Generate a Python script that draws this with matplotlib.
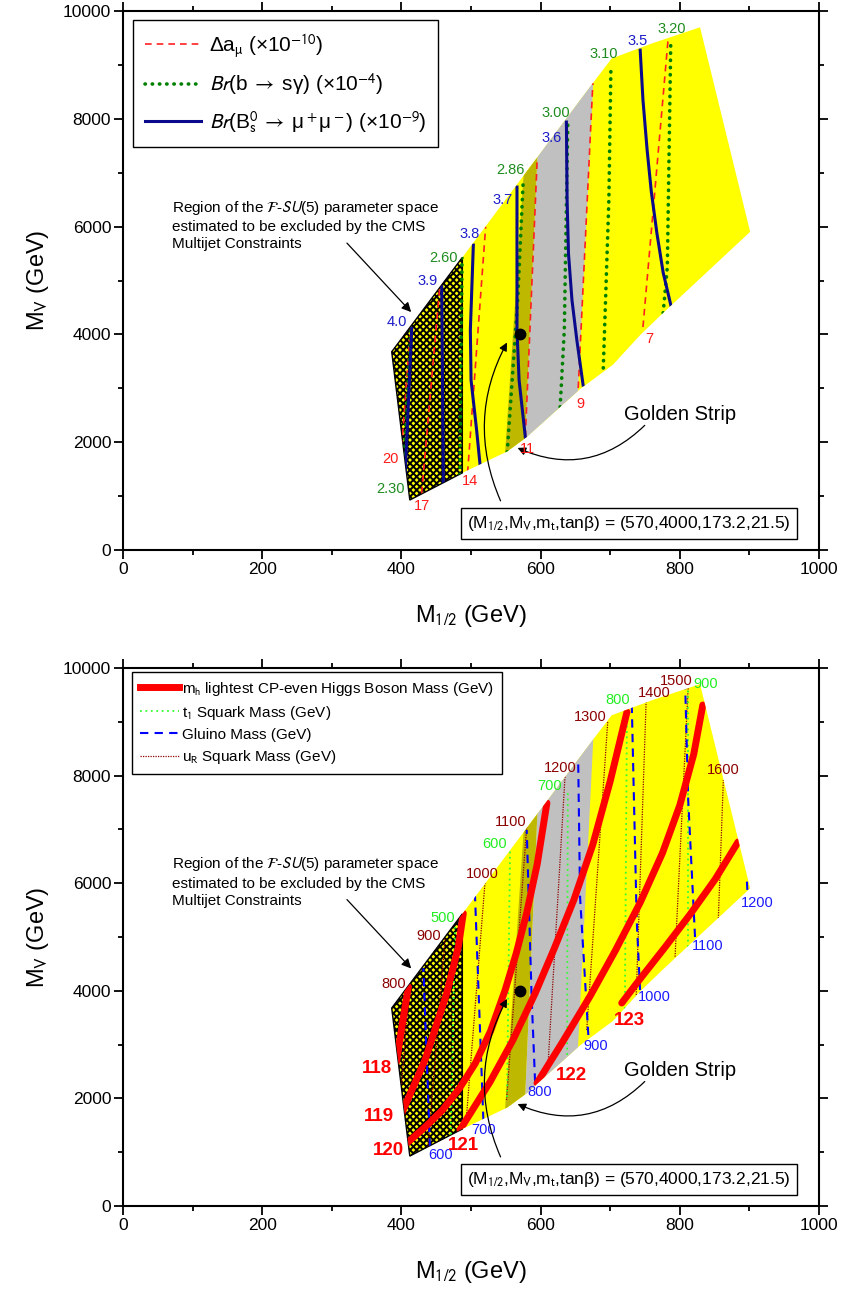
import matplotlib
matplotlib.use('Agg')
import matplotlib.pyplot as plt
from matplotlib.patches import Polygon
from matplotlib.lines import Line2D
from matplotlib.ticker import MultipleLocator

plt.rcParams['font.family'] = ['Liberation Sans', 'DejaVu Sans']
plt.rcParams['mathtext.fontset'] = 'stixsans'
plt.rcParams['hatch.linewidth'] = 1.4

# allowed (M_1/2, M_V) region and its shaded parts
region_x = [386, 487.5, 675, 702, 760, 829, 901, 776, 743, 704, 657, 580, 552, 487, 412]
region_y = [3679, 5430, 8664, 9120, 9400, 9700, 5905, 4400, 3990, 3440, 2990, 2096, 1830, 1429, 928]
excl_x = [386, 487.5, 487.5, 412]
excl_y = [3679, 5430, 1432, 928]
olive_x = [545.8, 578.8, 597, 576]
olive_y = [1200, 7600, 7800, 1500]
grey_x = [576, 597, 678, 652]
grey_y = [1500, 7800, 9300, 2500]

# top panel: Delta a_mu (x1e-10)
amu_vals = ['20', '17', '14', '11', '9', '7']
amu_x = [[400.4, 413], [429, 455.5], [495, 521], [578, 595], [654, 675], [747, 783]]
amu_y = [[1916, 4100], [1052, 4948], [1430, 5998], [2096, 7236], [3006, 8664], [4137, 9462]]
amu_lab = [(383.6, 1688), (428.9, 816), (498.6, 1280), (581.2, 1874), (656.6, 2709), (755.7, 3915)]

# top panel: Br(b -> s gamma) (x1e-4)
bsg_vals = ['2.30', '2.60', '2.86', '3.00', '3.10', '3.20']
bsg_x = [[402, 414], [484, 487], [552, 567, 575], [628, 634, 639], [690, 698, 701], [776, 782, 787]]
bsg_y = [[1250, 4150], [1400, 5420], [1818, 4638, 6865], [2653, 4082, 7922], [3377, 6494, 8998], [4397, 5250, 9462]]
bsg_lab = [(383.6, 1132), (459.8, 5427), (556, 7050), (622, 8117), (691, 9202), (788.8, 9666)]

# top panel: Br(Bs -> mu mu) (x1e-9)
bmm_vals = ['4.0', '3.9', '3.8', '3.7', '3.6', '3.5']
bmm_x = [[405.2, 414.8], [460.2, 457.9], [513, 508, 500, 499, 503.3],
         [578, 569, 566, 566], [661, 652, 645, 640, 638, 637],
         [787, 776, 767, 759, 753, 747, 743]]
bmm_y = [[1360, 4113], [1237, 4885], [1577, 2226, 3154, 4082, 5659],
         [2096, 3154, 4082, 6735], [3061, 3896, 4638, 5500, 6494, 7941],
         [4545, 5150, 5881, 6650, 7421, 8350, 9276]]
bmm_lab = [(393.2, 4236), (438.2, 4991), (498.6, 5863), (546, 6494), (616.4, 7653), (740, 9443)]

# bottom panel: lightest Higgs mass (GeV)
mh_vals = ['118', '119', '120', '121', '122', '123']
mh_x = [[393, 401, 410],
        [400.4, 433.9, 465.1, 481.8, 488.9],
        [408, 435, 459, 483, 506, 528, 549, 565, 580, 595, 609],
        [484, 527, 560, 592, 620, 648, 675, 700, 724],
        [594.8, 632, 671, 707, 743, 775, 800, 820, 833],
        [716.5, 742.8, 778.7, 814.7, 850.6, 883.6]]
mh_y = [[2682, 3364, 4076],
        [1723, 2714, 3954, 4820, 5440],
        [1171, 1480, 1785, 2180, 2650, 3250, 4015, 4700, 5450, 6350, 7491],
        [1413, 2300, 3080, 3950, 4800, 5700, 6720, 7900, 9182],
        [2286, 3060, 3900, 4740, 5640, 6560, 7450, 8400, 9312],
        [3773, 4220, 4810, 5420, 6070, 6766]]
mh_lab = [(365, 2565), (368, 1673), (381, 1041), (488.5, 1134), (643.7, 2435), (727, 3457)]

# bottom panel: stop squark mass (GeV)
t1_vals = ['500', '600', '700', '800', '900']
t1_x = [[471, 477], [551.7, 556], [638, 639], [721, 724], [812, 812]]
t1_y = [[1330, 5240], [2026, 6617], [2807, 7677], [3661, 9183], [4814, 9647]]
t1_lab = [(459, 5362), (534, 6729), (612.8, 7807), (710.5, 9405), (836.9, 9703)]

# bottom panel: gluino mass (GeV)
gl_vals = ['600', '700', '800', '900', '1000', '1100', '1200']
gl_x = [[441, 431.5], [517.7, 505.7], [592, 587, 580], [668.5, 656.6, 654],
        [742.8, 738, 731], [821.8, 812, 807.5], [897, 896]]
gl_y = [[1102, 4418], [1600, 5762], [2311, 3892, 6989], [3178, 5750, 8228],
        [4015, 5316, 9281], [5000, 7546, 9740], [5874, 6121]]
gl_lab = [(456, 948), (518, 1413), (598.4, 2110), (678.9, 2965), (763, 3894), (839.8, 4833), (911.6, 5641)]

# bottom panel: u_R squark mass (GeV)
ur_vals = ['800', '900', '1000', '1100', '1200', '1300', '1400', '1500', '1600']
ur_x = [[400.3, 411.5], [438.2, 462.6], [493.8, 520], [551, 580], [611, 635],
        [666.2, 696.4], [737.1, 752.2], [793.1, 812.2], [855.3, 862.5]]
ur_y = [[2268, 4089], [1097, 4963], [1723, 6004], [1970, 7051], [2714, 7980],
        [3271, 9003], [3829, 9629], [4634, 9715], [5347, 7918]]
ur_lab = [(389.4, 4126), (439.7, 5019), (515.8, 6171), (557.5, 7128), (628.6, 8150),
          (671, 9080), (763, 9526), (794.5, 9758), (862, 8104)]

bench_x, bench_y = 570, 4000


def draw_family(ax, clip, xs, ys, vals, labs, lab_color, fs, weight='normal', **kw):
    for x, y, v, (lx, ly) in zip(xs, ys, vals, labs):
        ln, = ax.plot(x, y, **kw)
        ln.set_clip_path(clip)
        ax.text(lx, ly, v, color=lab_color, fontsize=fs, fontweight=weight,
                ha='center', va='center')


def base_panel(ax):
    ax.set_xlim(0, 1000)
    ax.set_ylim(0, 10000)
    ax.xaxis.set_major_locator(MultipleLocator(200))
    ax.xaxis.set_minor_locator(MultipleLocator(100))
    ax.yaxis.set_major_locator(MultipleLocator(2000))
    ax.yaxis.set_minor_locator(MultipleLocator(1000))
    ax.tick_params(which='both', direction='out', top=True, right=True, width=1.3,
                   labelsize=12.5, pad=2)
    ax.tick_params(which='major', length=6.5)
    ax.tick_params(which='minor', length=3.5)
    for s in ax.spines.values():
        s.set_linewidth(1.5)
    ax.set_xlabel(r'M$_{1/2}$ (GeV)', fontsize=17)
    ax.set_ylabel(r'M$_\mathrm{V}$ (GeV)', fontsize=17)
    ax.xaxis.set_label_coords(0.5, -0.098)
    ax.yaxis.set_label_coords(-0.104, 0.5)

    ax.add_patch(Polygon(list(zip(region_x, region_y)), closed=True, fc='#ffff00', ec='none', zorder=1))
    clip = Polygon(list(zip(region_x, region_y)), closed=True, transform=ax.transData)
    p = ax.add_patch(Polygon(list(zip(olive_x, olive_y)), closed=True, fc='#bfb800', ec='none', zorder=1.1))
    p.set_clip_path(clip)
    p = ax.add_patch(Polygon(list(zip(grey_x, grey_y)), closed=True, fc='#c0c0c0', ec='none', zorder=1.1))
    p.set_clip_path(clip)
    ax.add_patch(Polygon(list(zip(excl_x, excl_y)), closed=True, fc='none', ec='black',
                         hatch='xxxxx', lw=1.0, zorder=1.2))

    ax.text(70, 6520, 'Region of the $\\mathcal{F}$-$\\mathit{SU}$(5) parameter space\n'
            'estimated to be excluded by the CMS\nMultijet Constraints',
            fontsize=11, ha='left', va='top', linespacing=1.3)
    ax.annotate('', xy=(416.7, 4378), xytext=(319, 5733),
                arrowprops=dict(arrowstyle='-|>', color='black', lw=0.9, mutation_scale=14))
    ax.plot(bench_x, bench_y, 'o', color='black', ms=7.5, zorder=5)
    ax.annotate('', xy=(553.6, 3896), xytext=(544, 866),
                arrowprops=dict(arrowstyle='-|>', color='black', lw=0.9, mutation_scale=12,
                                connectionstyle='arc3,rad=-0.25'), zorder=5)
    ax.text(727, 490, r'(M$_{1/2}$,M$_\mathrm{V}$,m$_\mathrm{t}$,tanβ) = (570,4000,173.2,21.5)',
            fontsize=12.5, ha='center', va='center', zorder=6,
            bbox=dict(boxstyle='square,pad=0.35', fc='white', ec='black', lw=1))
    ax.text(801, 2510, 'Golden Strip', fontsize=14.5, ha='center', va='center')
    ax.annotate('', xy=(563.2, 1917), xytext=(752.4, 2350),
                arrowprops=dict(arrowstyle='-|>', color='black', lw=0.9, mutation_scale=12,
                                connectionstyle='arc3,rad=-0.35'))
    return clip


fig = plt.figure(figsize=(8.45, 12.9), dpi=100)
ax1 = fig.add_axes([0.1456, 0.5736, 0.8237, 0.4178])
ax2 = fig.add_axes([0.1456, 0.0651, 0.8237, 0.4171])

# ---------- top panel ----------
clip1 = base_panel(ax1)
draw_family(ax1, clip1, amu_x, amu_y, amu_vals, amu_lab, '#ff1a1a', 10.5,
            color='#ff2020', lw=1.2, ls=(0, (4, 3)), zorder=3)
draw_family(ax1, clip1, bsg_x, bsg_y, bsg_vals, bsg_lab, '#1e8c1e', 10.5,
            color='#008000', lw=2.6, ls=(0, (0.1, 1.9)), dash_capstyle='round', zorder=3)
draw_family(ax1, clip1, bmm_x, bmm_y, bmm_vals, bmm_lab, '#1c1cc8', 10.5,
            color='#0a0a8c', lw=2.2, zorder=3)

h1 = [Line2D([], [], color='#ff2020', lw=1.2, ls=(0, (4, 3))),
      Line2D([], [], color='#008000', lw=2.6, ls=(0, (0.1, 1.9)), dash_capstyle='round'),
      Line2D([], [], color='#0a0a8c', lw=2.2)]
l1 = [r'Δa$_\mathrm{μ}$ (×10$^{-10}$)',
      r'$Br$(b$\;\rightarrow\;$sγ) (×10$^{-4}$)',
      r'$Br$(B$_\mathrm{s}^\mathrm{0}$$\;\rightarrow\;$μ$^+$μ$^-$) (×10$^{-9}$)']
leg = ax1.legend(h1, l1, loc='upper left', bbox_to_anchor=(0.0144, 0.983), fontsize=15,
                 frameon=True, fancybox=False, edgecolor='black', framealpha=1,
                 handlelength=2.7, handletextpad=0.4, labelspacing=0.6, borderpad=0.55,
                 borderaxespad=0)
leg.get_frame().set_linewidth(1.0)

# ---------- bottom panel ----------
clip2 = base_panel(ax2)
draw_family(ax2, clip2, ur_x, ur_y, ur_vals, ur_lab, '#8b0000', 10.5,
            color='#8b0000', lw=0.9, ls=(0, (1, 1)), zorder=3)
draw_family(ax2, clip2, t1_x, t1_y, t1_vals, t1_lab, '#22ee22', 10.5,
            color='#33ff33', lw=1.3, ls=(0, (1, 2)), zorder=3)
draw_family(ax2, clip2, gl_x, gl_y, gl_vals, gl_lab, '#1a1aff', 10.5,
            color='#0000ff', lw=1.5, ls=(0, (4, 3)), zorder=3)
draw_family(ax2, clip2, mh_x, mh_y, mh_vals, mh_lab, '#ff0000', 13.5, weight='bold',
            color='#ff0000', lw=5, solid_capstyle='round', zorder=4)

h2 = [Line2D([], [], color='#ff0000', lw=5),
      Line2D([], [], color='#33ff33', lw=1.3, ls=(0, (1, 2))),
      Line2D([], [], color='#0000ff', lw=1.5, ls=(0, (4, 3))),
      Line2D([], [], color='#8b0000', lw=0.9, ls=(0, (1, 1)))]
l2 = [r'm$_\mathrm{h}$ lightest CP-even Higgs Boson Mass (GeV)',
      r't$_\mathrm{1}$ Squark Mass (GeV)',
      'Gluino Mass (GeV)',
      r'u$_\mathrm{R}$ Squark Mass (GeV)']
leg2 = ax2.legend(h2, l2, loc='upper left', bbox_to_anchor=(0.0129, 0.9926), fontsize=11,
                  frameon=True, fancybox=False, edgecolor='black', framealpha=1,
                  handlelength=2.6, handletextpad=0.2, labelspacing=0.4, borderpad=0.5,
                  borderaxespad=0)
leg2.get_frame().set_linewidth(1.0)

fig.savefig('out.png', dpi=100)
